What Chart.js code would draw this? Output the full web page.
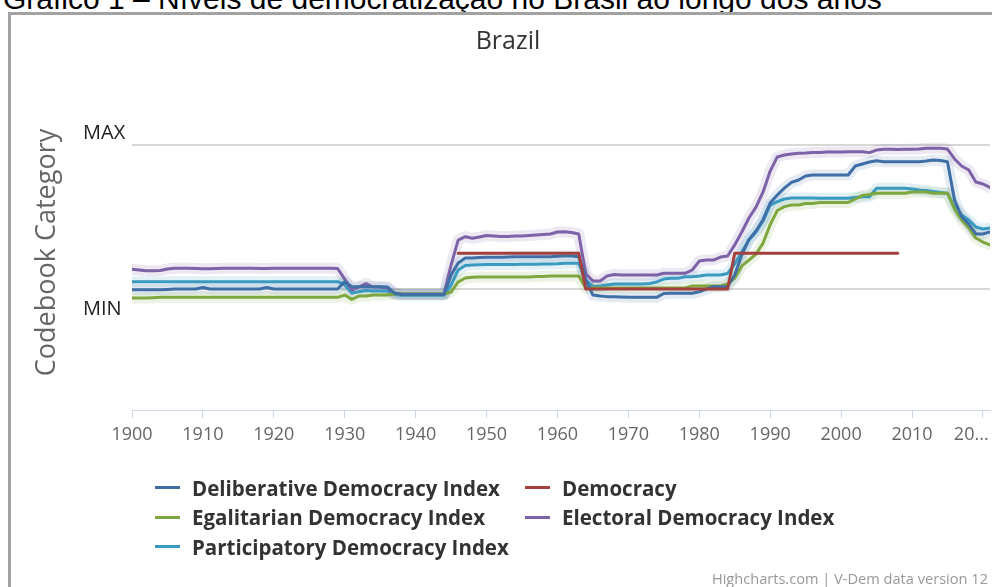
<!DOCTYPE html>
<html><head><meta charset="utf-8">
<script src="https://cdn.jsdelivr.net/npm/chart.js@4.4.0/dist/chart.umd.min.js"></script>
<style>
html,body{margin:0;padding:0;width:992px;height:587px;overflow:hidden;background:#fff;position:relative;}
#caption{position:absolute;left:3px;top:-16px;line-height:30px;font-family:'Liberation Sans',Arial,sans-serif;font-size:30px;color:#000;white-space:nowrap;}
#frame{position:absolute;left:8px;top:12px;width:1020px;height:620px;border:3px solid #a2a2a2;box-sizing:border-box;}
#wrap{position:absolute;left:0;top:0;width:1016px;height:587px;}
#legend{position:absolute;left:155px;top:473px;display:grid;grid-template-columns:370px auto;font-family:'Open Sans',sans-serif;font-weight:bold;font-size:20.5px;color:#333;}
.item{display:flex;align-items:center;height:29.5px;white-space:nowrap;}
.sym{width:25px;height:3px;margin-right:12px;}
#credits{position:absolute;right:4px;top:568px;font-family:'Open Sans',sans-serif;font-size:14.6px;color:#999;white-space:nowrap;}
</style></head><body>
<div id="caption">Gráfico 1 – Níveis de democratização no Brasil ao longo dos anos</div>
<div id="frame"></div>
<div id="wrap"><canvas id="c" width="1016" height="587"></canvas></div>
<div id="legend"></div>
<div id="credits">Highcharts.com | V-Dem data version 12</div>
<script>
const chartTitle = 'Brazil';
const yAxisTitle = 'Codebook Category';
const years = Array.from({length: 122}, (_, i) => 1900 + i);
const xTickValues = [1900,1910,1920,1930,1940,1950,1960,1970,1980,1990,2000,2010,2020];
const xTickLabels = ['1900','1910','1920','1930','1940','1950','1960','1970','1980','1990','2000','2010','20...'];
const yTickLabels = ['MIN','MAX'];
const seriesNames = ['Deliberative Democracy Index','Democracy','Egalitarian Democracy Index','Electoral Democracy Index','Participatory Democracy Index'];

const deliberative = [
-0.005,-0.005,-0.005,-0.005,-0.005,-0.003,0,0,0,0,
0.010,0,0,0,0,0,0,0,0,0.010,
0,0,0,0,0,0,0,0,0,0,
0.051,0.016,0.016,0.016,0.016,0.016,0.014,-0.028,-0.038,-0.038,
-0.038,-0.038,-0.038,-0.038,-0.038,0.097,0.181,0.215,0.215,0.219,
0.220,0.220,0.220,0.222,0.224,0.224,0.224,0.224,0.224,0.224,
0.227,0.229,0.229,0.224,0.063,-0.042,-0.049,-0.053,-0.053,-0.056,
-0.058,-0.058,-0.058,-0.058,-0.058,-0.031,-0.030,-0.030,-0.030,-0.030,
-0.019,0.000,0.016,0.016,0.017,0.097,0.236,0.344,0.403,0.483,
0.597,0.653,0.701,0.740,0.757,0.785,0.792,0.792,0.792,0.792,
0.792,0.792,0.854,0.868,0.882,0.891,0.884,0.884,0.884,0.884,
0.884,0.884,0.889,0.896,0.892,0.884,0.618,0.502,0.451,0.382,
0.382,0.396];

const democracy = [
null,null,null,null,null,null,null,null,null,null,
null,null,null,null,null,null,null,null,null,null,
null,null,null,null,null,null,null,null,null,null,
null,null,null,null,null,null,null,null,null,null,
null,null,null,null,null,null,0.248,0.248,0.248,0.248,
0.248,0.248,0.248,0.248,0.248,0.248,0.248,0.248,0.248,0.248,
0.248,0.248,0.248,0.248,0,0,0,0,0,0,
0,0,0,0,0,0,0,0,0,0,
0,0,0,0,0,0.248,0.248,0.248,0.248,0.248,
0.248,0.248,0.248,0.248,0.248,0.248,0.248,0.248,0.248,0.248,
0.248,0.248,0.248,0.248,0.248,0.248,0.248,0.248,0.248,null,
null,null,null,null,null,null,null,null,null,null,
null,null];

const egalitarian = [
-0.063,-0.063,-0.063,-0.060,-0.058,-0.058,-0.058,-0.058,-0.058,-0.058,
-0.058,-0.058,-0.058,-0.058,-0.058,-0.058,-0.058,-0.058,-0.058,-0.058,
-0.058,-0.058,-0.058,-0.058,-0.058,-0.058,-0.058,-0.058,-0.058,-0.058,
-0.042,-0.072,-0.049,-0.049,-0.042,-0.042,-0.042,-0.035,-0.035,-0.035,
-0.035,-0.035,-0.035,-0.035,-0.035,-0.021,0.049,0.076,0.081,0.083,
0.083,0.083,0.083,0.083,0.083,0.083,0.083,0.087,0.087,0.090,
0.090,0.090,0.090,0.090,0.005,0.007,0.007,0.007,0.007,0.007,
0.007,0.007,0.007,0.007,0.007,0.007,0.007,0.007,0.007,0.021,
0.021,0.021,0.021,0.021,0.035,0.076,0.160,0.201,0.243,0.319,
0.447,0.545,0.572,0.583,0.583,0.594,0.594,0.601,0.601,0.601,
0.601,0.601,0.625,0.649,0.656,0.665,0.665,0.665,0.665,0.665,
0.674,0.674,0.674,0.665,0.665,0.665,0.556,0.479,0.424,0.354,
0.326,0.306];

const electoral = [
0.137,0.132,0.127,0.127,0.128,0.139,0.144,0.144,0.144,0.143,
0.141,0.141,0.142,0.144,0.144,0.144,0.144,0.144,0.143,0.142,
0.144,0.144,0.144,0.144,0.144,0.144,0.144,0.144,0.144,0.142,
0.069,-0.007,0.014,0.038,0.014,0.014,0.007,-0.028,-0.035,-0.035,
-0.035,-0.035,-0.035,-0.035,-0.035,0.167,0.340,0.363,0.352,0.361,
0.372,0.368,0.365,0.365,0.368,0.368,0.372,0.375,0.378,0.382,
0.396,0.398,0.392,0.382,0.104,0.056,0.056,0.090,0.101,0.097,
0.097,0.097,0.097,0.097,0.097,0.109,0.109,0.109,0.109,0.132,
0.194,0.201,0.201,0.222,0.229,0.306,0.396,0.493,0.569,0.674,
0.819,0.917,0.931,0.938,0.942,0.944,0.948,0.948,0.951,0.951,
0.951,0.953,0.953,0.953,0.947,0.965,0.970,0.970,0.969,0.970,
0.970,0.972,0.977,0.977,0.977,0.972,0.903,0.854,0.826,0.743,
0.729,0.705];

const participatory = [
0.051,0.051,0.051,0.051,0.051,0.051,0.051,0.051,0.051,0.051,
0.051,0.051,0.051,0.051,0.051,0.051,0.051,0.051,0.051,0.051,
0.051,0.051,0.051,0.051,0.051,0.051,0.051,0.051,0.051,0.051,
0.028,-0.028,-0.019,-0.010,-0.014,-0.014,-0.014,-0.038,-0.044,-0.044,
-0.044,-0.044,-0.044,-0.044,-0.044,0.028,0.132,0.163,0.167,0.169,
0.170,0.170,0.170,0.170,0.170,0.171,0.172,0.172,0.174,0.174,
0.175,0.178,0.178,0.178,0.063,0.016,0.021,0.028,0.035,0.035,
0.035,0.035,0.035,0.038,0.049,0.069,0.074,0.074,0.085,0.085,
0.090,0.097,0.097,0.097,0.108,0.174,0.259,0.340,0.396,0.472,
0.583,0.606,0.625,0.632,0.632,0.632,0.632,0.630,0.630,0.630,
0.630,0.630,0.635,0.641,0.641,0.699,0.699,0.699,0.699,0.699,
0.694,0.688,0.684,0.677,0.670,0.665,0.569,0.514,0.479,0.431,
0.417,0.424];

const seriesValues = [deliberative, democracy, egalitarian, electoral, participatory];
const lineColors = ['#3f6fa6','#a3403d','#7ea73f','#7d62a7','#3a9ac0'];
const bandColors = ['rgba(63,111,166,0.14)', null, 'rgba(126,167,63,0.14)', 'rgba(125,98,167,0.14)', 'rgba(58,154,192,0.14)'];

const toPoints = arr => years.map((y, i) => ({x: y, y: arr[i]}));

const datasets = [];
seriesValues.forEach((vals, i) => {
  datasets.push({
    label: seriesNames[i], data: toPoints(vals), borderColor: lineColors[i], backgroundColor: lineColors[i],
    borderWidth: 3, pointRadius: 0, tension: 0, fill: false, spanGaps: false,
    borderJoinStyle: 'round', borderCapStyle: 'round', order: i === 1 ? 0 : 1, isMain: true
  });
});
seriesValues.forEach((vals, i) => {
  if (!bandColors[i]) return;
  datasets.push({
    label: seriesNames[i] + ' band', data: toPoints(vals), borderColor: bandColors[i],
    borderWidth: 11, pointRadius: 0, tension: 0, fill: false,
    borderJoinStyle: 'round', borderCapStyle: 'round', order: 5, isMain: false
  });
});

const yMin = -0.8403, yMax = 1.3472;
const pxPerUnit = 144;
// pad the clipped last x label so it sits left of its tick, like the ellipsised original
const lastLabelPad = '\u00a0\u00a0\u00a0\u00a0\u00a0';

const chart = new Chart(document.getElementById('c'), {
  type: 'line',
  data: { datasets },
  options: {
    responsive: false, animation: false, devicePixelRatio: 1,
    layout: { padding: 0 },
    plugins: {
      legend: { display: false }, tooltip: { enabled: false },
      title: { display: true, text: chartTitle, color: '#333',
        font: { family: 'Open Sans', size: 25, weight: 'normal' }, padding: { top: 27, bottom: 38 } }
    },
    scales: {
      x: {
        type: 'linear', min: 1900, max: 2021,
        grid: { display: true, drawOnChartArea: false, drawTicks: true, tickLength: 8, color: '#ccd6eb', tickColor: '#ccd6eb' },
        border: { display: true, color: '#ccd6eb', width: 1 },
        ticks: { autoSkip: false, maxRotation: 0, padding: 6, color: '#666',
          font: { family: 'Open Sans', size: 18 },
          callback: (v, idx) => idx === xTickLabels.length - 1 ? xTickLabels[idx] + lastLabelPad : xTickLabels[idx] },
        afterBuildTicks: s => { s.ticks = xTickValues.map(v => ({ value: v })); },
        afterFit: s => { s.height = 177; s.paddingLeft = 0; s.paddingRight = 0; }
      },
      y: {
        min: yMin, max: yMax, position: 'left', weight: 0,
        grid: { color: '#d8d8d8', lineWidth: 2, drawTicks: false },
        border: { display: false },
        ticks: { display: false },
        afterBuildTicks: s => { s.ticks = [{ value: 0 }, { value: 1 }]; },
        afterFit: s => { s.width = 0; s.paddingTop = 0; s.paddingBottom = 0; }
      },
      yLab: {
        type: 'linear', min: yMin, max: yMax, position: 'left', weight: 1,
        grid: { display: false, drawTicks: false }, border: { display: false },
        ticks: { display: true, crossAlign: 'far', color: '#222', padding: 0,
          font: { family: 'Open Sans', size: 20 },
          callback: (v, idx) => yTickLabels[idx] },
        afterBuildTicks: s => { s.ticks = [{ value: -20 / pxPerUnit }, { value: 1 + 12 / pxPerUnit }]; },
        afterFit: s => { s.width = 49; s.paddingTop = 0; s.paddingBottom = 0; }
      },
      yTitle: {
        type: 'linear', min: yMin, max: yMax, position: 'left', weight: 2,
        grid: { display: false, drawTicks: false }, border: { display: false },
        ticks: { display: false },
        title: { display: true, text: yAxisTitle, color: '#666',
          font: { family: 'Open Sans', size: 27, weight: 'normal' }, padding: { top: 31, bottom: 0 } },
        afterFit: s => { s.width = 83; s.paddingTop = 0; s.paddingBottom = 0; }
      },
      yRight: {
        type: 'linear', min: yMin, max: yMax, position: 'right',
        grid: { display: false, drawTicks: false }, border: { display: false },
        ticks: { display: false },
        afterFit: s => { s.width = 26; s.paddingTop = 0; s.paddingBottom = 0; }
      }
    }
  }
});

// legend built from the chart's own datasets
const legendEl = document.getElementById('legend');
chart.data.datasets.filter(d => d.isMain).forEach(d => {
  const item = document.createElement('div'); item.className = 'item';
  const sym = document.createElement('span'); sym.className = 'sym'; sym.style.background = d.borderColor;
  const txt = document.createElement('span'); txt.textContent = d.label;
  item.appendChild(sym); item.appendChild(txt); legendEl.appendChild(item);
});
</script>
</body></html>
